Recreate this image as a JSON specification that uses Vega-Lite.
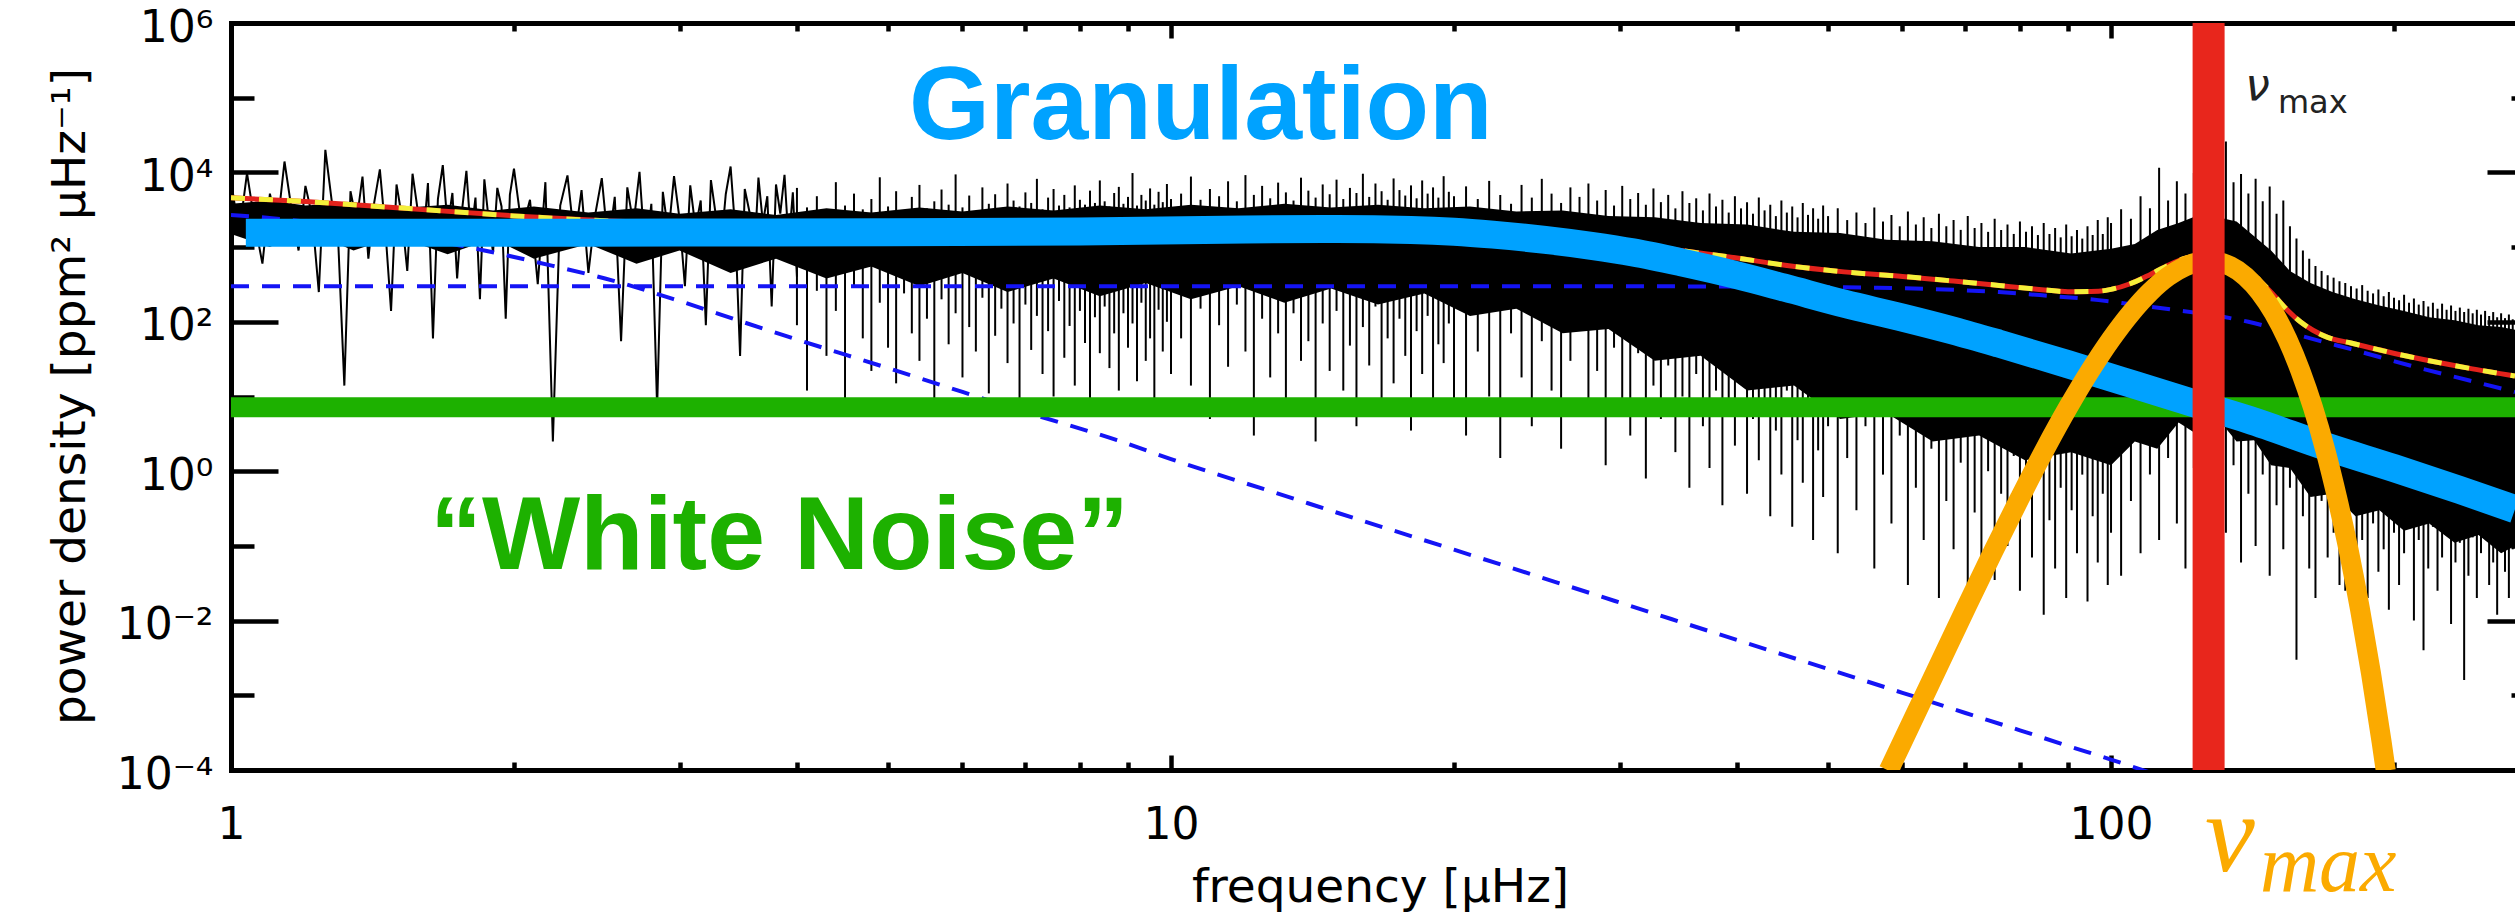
{
"$schema": "https://vega.github.io/schema/vega-lite/v6.json",
"width": 2284, "height": 747,
"autosize": {"type": "none"},
"padding": {"left": 231, "top": 23, "right": 0, "bottom": 143},
"background": "white",
"view": {"stroke": null},
"config": {"axis": {"grid": false, "domainColor": "black", "domainWidth": 5, "domainCap": "square", "tickColor": "black", "tickWidth": 4.5, "labelFont": "DejaVu Sans", "labelFontSize": 44, "labelColor": "black", "titleFont": "DejaVu Sans", "titleFontSize": 47, "titleFontWeight": "normal", "titleColor": "black", "labelOverlap": false, "labelFlush": false}},
"resolve": {"axis": {"x": "independent", "y": "independent"}},
"datasets": {
"low": [{"f":1.00,"p":7800},{"f":1.02,"p":1500},{"f":1.04,"p":9800},{"f":1.06,"p":2100},{"f":1.08,"p":600},{"f":1.10,"p":5200},{"f":1.12,"p":1800},{"f":1.14,"p":14000},{"f":1.16,"p":3200},{"f":1.18,"p":900},{"f":1.20,"p":6600},{"f":1.22,"p":2600},{"f":1.24,"p":250},{"f":1.26,"p":20000},{"f":1.28,"p":4100},{"f":1.30,"p":1300},{"f":1.32,"p":14},{"f":1.34,"p":5600},{"f":1.36,"p":2200},{"f":1.38,"p":8800},{"f":1.40,"p":700},{"f":1.42,"p":3900},{"f":1.44,"p":11000},{"f":1.46,"p":1600},{"f":1.48,"p":140},{"f":1.50,"p":6900},{"f":1.52,"p":2500},{"f":1.54,"p":480},{"f":1.56,"p":9600},{"f":1.58,"p":3100},{"f":1.60,"p":1100},{"f":1.62,"p":7200},{"f":1.64,"p":60},{"f":1.66,"p":4400},{"f":1.68,"p":12500},{"f":1.70,"p":1900},{"f":1.72,"p":5300},{"f":1.74,"p":380},{"f":1.76,"p":2900},{"f":1.78,"p":10500},{"f":1.80,"p":1400},{"f":1.82,"p":4600},{"f":1.84,"p":200},{"f":1.86,"p":8100},{"f":1.88,"p":2300},{"f":1.90,"p":850},{"f":1.92,"p":6200},{"f":1.94,"p":3500},{"f":1.96,"p":110},{"f":1.98,"p":5000},{"f":2.00,"p":11200},{"f":2.04,"p":1700},{"f":2.08,"p":4300},{"f":2.12,"p":320},{"f":2.16,"p":7400},{"f":2.20,"p":2.5},{"f":2.24,"p":3600},{"f":2.28,"p":9100},{"f":2.32,"p":1200},{"f":2.36,"p":5800},{"f":2.40,"p":450},{"f":2.44,"p":2700},{"f":2.48,"p":8400},{"f":2.52,"p":1000},{"f":2.56,"p":4700},{"f":2.60,"p":55},{"f":2.64,"p":6300},{"f":2.68,"p":2000},{"f":2.72,"p":10200},{"f":2.76,"p":700},{"f":2.80,"p":3800},{"f":2.84,"p":7},{"f":2.88,"p":5500},{"f":2.92,"p":1500},{"f":2.96,"p":8900},{"f":3.00,"p":2400},{"f":3.04,"p":300},{"f":3.08,"p":6700},{"f":3.12,"p":1800},{"f":3.16,"p":4200},{"f":3.20,"p":90},{"f":3.24,"p":7900},{"f":3.28,"p":2600},{"f":3.32,"p":950},{"f":3.36,"p":5100},{"f":3.40,"p":12000},{"f":3.44,"p":1600},{"f":3.48,"p":35},{"f":3.52,"p":6000},{"f":3.56,"p":3000},{"f":3.60,"p":600},{"f":3.64,"p":8500},{"f":3.68,"p":2100},{"f":3.72,"p":4800},{"f":3.76,"p":160},{"f":3.80,"p":6900},{"f":3.84,"p":2800},{"f":3.88,"p":9300},{"f":3.92,"p":1100},{"f":3.96,"p":5400},{"f":4.00,"p":400}],
"band": [{"f":1.0,"lo":1500,"hi":3800},{"f":1.1,"lo":1000,"hi":4200},{"f":1.2,"lo":1700,"hi":3600},{"f":1.35,"lo":900,"hi":4000},{"f":1.5,"lo":1400,"hi":3300},{"f":1.7,"lo":800,"hi":3700},{"f":1.9,"lo":1300,"hi":3100},{"f":2.1,"lo":700,"hi":3500},{"f":2.4,"lo":1100,"hi":2900},{"f":2.7,"lo":600,"hi":3300},{"f":3.0,"lo":900,"hi":2800},{"f":3.4,"lo":450,"hi":3200},{"f":3.8,"lo":700,"hi":2700},{"f":4.3,"lo":380,"hi":3300},{"f":4.8,"lo":550,"hi":2900},{"f":5.4,"lo":300,"hi":3400},{"f":6.0,"lo":450,"hi":3000},{"f":6.7,"lo":250,"hi":3500},{"f":7.5,"lo":380,"hi":3100},{"f":8.4,"lo":220,"hi":3600},{"f":9.4,"lo":330,"hi":3200},{"f":10.5,"lo":200,"hi":3700},{"f":11.8,"lo":300,"hi":3300},{"f":13.2,"lo":180,"hi":3800},{"f":14.8,"lo":280,"hi":3400},{"f":16.6,"lo":170,"hi":3700},{"f":18.6,"lo":240,"hi":3300},{"f":20.8,"lo":120,"hi":3500},{"f":23.3,"lo":150,"hi":3000},{"f":26.1,"lo":70,"hi":3100},{"f":29.2,"lo":80,"hi":2600},{"f":32.7,"lo":30,"hi":2500},{"f":36.6,"lo":35,"hi":2100},{"f":41,"lo":12,"hi":2000},{"f":46,"lo":14,"hi":1600},{"f":51.5,"lo":5,"hi":1550},{"f":57.7,"lo":6,"hi":1250},{"f":64.6,"lo":2.5,"hi":1200},{"f":72.4,"lo":3,"hi":1000},{"f":81,"lo":1.4,"hi":1000},{"f":90.7,"lo":1.8,"hi":820},{"f":100,"lo":1.2,"hi":950},{"f":106,"lo":2.5,"hi":1100},{"f":112,"lo":2,"hi":1700},{"f":118,"lo":4.5,"hi":2100},{"f":124,"lo":3,"hi":2700},{"f":130,"lo":5,"hi":2500},{"f":136,"lo":2.5,"hi":2200},{"f":142,"lo":2.6,"hi":1400},{"f":148,"lo":1.2,"hi":900},{"f":155,"lo":1.1,"hi":480},{"f":163,"lo":0.45,"hi":330},{"f":172,"lo":0.5,"hi":250},{"f":182,"lo":0.25,"hi":200},{"f":193,"lo":0.3,"hi":165},{"f":205,"lo":0.16,"hi":140},{"f":218,"lo":0.2,"hi":115},{"f":232,"lo":0.11,"hi":105},{"f":246,"lo":0.14,"hi":90},{"f":260,"lo":0.08,"hi":85},{"f":269,"lo":0.1,"hi":78}],
"spk": [{"f":4.0,"lo":90,"hi":6200},{"f":4.1,"lo":12,"hi":3400},{"f":4.2,"lo":260,"hi":4800},{"f":4.3,"lo":35,"hi":3000},{"f":4.4,"lo":140,"hi":7400},{"f":4.5,"lo":8,"hi":3600},{"f":4.6,"lo":300,"hi":5200},{"f":4.7,"lo":60,"hi":3200},{"f":4.8,"lo":22,"hi":4400},{"f":4.9,"lo":180,"hi":8600},{"f":5.0,"lo":45,"hi":3500},{"f":5.1,"lo":15,"hi":5600},{"f":5.2,"lo":240,"hi":3100},{"f":5.3,"lo":70,"hi":4700},{"f":5.4,"lo":30,"hi":6800},{"f":5.5,"lo":110,"hi":3300},{"f":5.6,"lo":9,"hi":4100},{"f":5.7,"lo":200,"hi":5900},{"f":5.8,"lo":50,"hi":3700},{"f":5.9,"lo":130,"hi":9400},{"f":6.0,"lo":18,"hi":3400},{"f":6.1,"lo":85,"hi":4900},{"f":6.2,"lo":40,"hi":3000},{"f":6.3,"lo":210,"hi":6300},{"f":6.4,"lo":11,"hi":3800},{"f":6.5,"lo":65,"hi":5100},{"f":6.6,"lo":150,"hi":3300},{"f":6.7,"lo":28,"hi":7100},{"f":6.8,"lo":95,"hi":4200},{"f":6.9,"lo":6,"hi":3500},{"f":7.0,"lo":170,"hi":5400},{"f":7.1,"lo":42,"hi":3900},{"f":7.2,"lo":120,"hi":8200},{"f":7.3,"lo":20,"hi":3200},{"f":7.4,"lo":75,"hi":4600},{"f":7.5,"lo":10,"hi":6000},{"f":7.6,"lo":190,"hi":3600},{"f":7.7,"lo":33,"hi":5000},{"f":7.8,"lo":88,"hi":3400},{"f":7.9,"lo":14,"hi":6700},{"f":8.0,"lo":140,"hi":4300},{"f":8.1,"lo":52,"hi":3700},{"f":8.2,"lo":7,"hi":5700},{"f":8.3,"lo":115,"hi":3900},{"f":8.4,"lo":38,"hi":7800},{"f":8.5,"lo":160,"hi":4100},{"f":8.6,"lo":24,"hi":3500},{"f":8.7,"lo":70,"hi":5300},{"f":8.8,"lo":12,"hi":6400},{"f":8.9,"lo":130,"hi":3800},{"f":9.0,"lo":45,"hi":4700},{"f":9.1,"lo":95,"hi":9800},{"f":9.2,"lo":16,"hi":3600},{"f":9.3,"lo":180,"hi":5000},{"f":9.4,"lo":30,"hi":4200},{"f":9.5,"lo":60,"hi":6100},{"f":9.6,"lo":9,"hi":3700},{"f":9.7,"lo":145,"hi":5500},{"f":9.8,"lo":40,"hi":4000},{"f":9.9,"lo":100,"hi":7000},{"f":10.0,"lo":20,"hi":4400},
{"f":10.25,"lo":60,"hi":5200},{"f":10.5,"lo":14,"hi":8800},{"f":10.75,"lo":150,"hi":4300},{"f":11.0,"lo":5,"hi":6000},{"f":11.25,"lo":90,"hi":4800},{"f":11.5,"lo":25,"hi":7600},{"f":11.75,"lo":170,"hi":4100},{"f":12.0,"lo":40,"hi":9200},{"f":12.25,"lo":3,"hi":5000},{"f":12.5,"lo":110,"hi":6600},{"f":12.75,"lo":18,"hi":4500},{"f":13.0,"lo":70,"hi":7300},{"f":13.25,"lo":8,"hi":5400},{"f":13.5,"lo":130,"hi":4200},{"f":13.75,"lo":30,"hi":8500},{"f":14.0,"lo":55,"hi":5700},{"f":14.25,"lo":2.5,"hi":4600},{"f":14.5,"lo":95,"hi":6900},{"f":14.75,"lo":22,"hi":5100},{"f":15.0,"lo":140,"hi":8000},{"f":15.25,"lo":12,"hi":4400},{"f":15.5,"lo":48,"hi":6200},{"f":15.75,"lo":4,"hi":5300},{"f":16.0,"lo":85,"hi":9600},{"f":16.25,"lo":26,"hi":4700},{"f":16.5,"lo":160,"hi":7100},{"f":16.75,"lo":7,"hi":5600},{"f":17.0,"lo":60,"hi":4300},{"f":17.25,"lo":15,"hi":8300},{"f":17.5,"lo":110,"hi":5800},{"f":17.75,"lo":35,"hi":4900},{"f":18.0,"lo":3.5,"hi":6700},{"f":18.25,"lo":75,"hi":4500},{"f":18.5,"lo":20,"hi":7800},{"f":18.75,"lo":120,"hi":5200},{"f":19.0,"lo":9,"hi":6300},{"f":19.25,"lo":50,"hi":4600},{"f":19.5,"lo":28,"hi":8900},{"f":19.75,"lo":95,"hi":5500},{"f":20.0,"lo":6,"hi":4800},
{"f":20.6,"lo":3,"hi":6500},{"f":21.2,"lo":40,"hi":4400},{"f":21.8,"lo":10,"hi":7700},{"f":22.4,"lo":1.5,"hi":5000},{"f":23.0,"lo":70,"hi":3800},{"f":23.6,"lo":18,"hi":6800},{"f":24.2,"lo":4,"hi":4600},{"f":24.8,"lo":55,"hi":8200},{"f":25.4,"lo":12,"hi":5200},{"f":26.0,"lo":2,"hi":3900},{"f":26.6,"lo":30,"hi":6300},{"f":27.2,"lo":80,"hi":4700},{"f":27.8,"lo":6,"hi":7100},{"f":28.4,"lo":22,"hi":4200},{"f":29.0,"lo":1.2,"hi":5800},{"f":29.6,"lo":45,"hi":3600},{"f":30.2,"lo":9,"hi":6600},{"f":30.8,"lo":3,"hi":4400},{"f":31.4,"lo":38,"hi":5300},{"f":32.0,"lo":0.8,"hi":3700},{"f":32.6,"lo":14,"hi":6100},{"f":33.2,"lo":5,"hi":4000},{"f":33.8,"lo":26,"hi":5000},{"f":34.4,"lo":1.8,"hi":3300},{"f":35.0,"lo":10,"hi":5600},{"f":35.6,"lo":0.6,"hi":3900},{"f":36.2,"lo":20,"hi":4500},{"f":36.8,"lo":4,"hi":3100},{"f":37.4,"lo":1.1,"hi":5200},{"f":38.0,"lo":12,"hi":3500},{"f":38.6,"lo":0.35,"hi":4300},{"f":39.2,"lo":7,"hi":2900},{"f":39.8,"lo":2.2,"hi":4800},{"f":40.4,"lo":16,"hi":3300},{"f":41.0,"lo":0.5,"hi":4000},{"f":41.6,"lo":5,"hi":2800},{"f":42.2,"lo":1.4,"hi":4600},{"f":42.8,"lo":9,"hi":3100},{"f":43.4,"lo":0.25,"hi":3700},{"f":44.0,"lo":3.5,"hi":2600},{"f":44.6,"lo":0.9,"hi":4200},{"f":45.2,"lo":12,"hi":2900},{"f":45.8,"lo":0.18,"hi":3500},{"f":46.4,"lo":2.6,"hi":2500},{"f":47.0,"lo":0.7,"hi":3900},{"f":47.6,"lo":6,"hi":2700},{"f":48.2,"lo":0.12,"hi":3300},{"f":48.8,"lo":1.9,"hi":2400},{"f":49.4,"lo":0.45,"hi":3600},{"f":50.0,"lo":4,"hi":2600},
{"f":51.2,"lo":0.08,"hi":3300},{"f":52.4,"lo":1.5,"hi":2300},{"f":53.6,"lo":0.3,"hi":2900},{"f":54.8,"lo":4,"hi":2100},{"f":56.0,"lo":0.05,"hi":3400},{"f":57.2,"lo":0.9,"hi":2200},{"f":58.4,"lo":0.2,"hi":2700},{"f":59.6,"lo":3,"hi":1900},{"f":60.8,"lo":0.03,"hi":3000},{"f":62.0,"lo":0.6,"hi":2000},{"f":63.2,"lo":0.12,"hi":2500},{"f":64.4,"lo":2,"hi":1800},{"f":65.6,"lo":0.02,"hi":2800},{"f":66.8,"lo":0.4,"hi":1900},{"f":68.0,"lo":0.09,"hi":2300},{"f":69.2,"lo":1.3,"hi":1700},{"f":70.4,"lo":0.015,"hi":2600},{"f":71.6,"lo":0.28,"hi":1800},{"f":72.8,"lo":0.06,"hi":2100},{"f":74.0,"lo":1.0,"hi":1600},{"f":75.2,"lo":0.035,"hi":2400},{"f":76.4,"lo":0.5,"hi":1700},{"f":77.6,"lo":0.1,"hi":2000},{"f":78.8,"lo":1.6,"hi":1500},{"f":80.0,"lo":0.025,"hi":2200},{"f":81.2,"lo":0.35,"hi":1600},{"f":82.4,"lo":0.07,"hi":1900},{"f":83.6,"lo":0.8,"hi":1450},{"f":84.8,"lo":0.012,"hi":2100},{"f":86.0,"lo":0.22,"hi":1500},{"f":87.2,"lo":0.05,"hi":1800},{"f":88.4,"lo":0.6,"hi":1350},{"f":89.6,"lo":0.02,"hi":2000},{"f":90.8,"lo":0.3,"hi":1400},{"f":92.0,"lo":0.08,"hi":1700},{"f":93.2,"lo":0.9,"hi":1300},{"f":94.4,"lo":0.018,"hi":1900},{"f":95.6,"lo":0.25,"hi":1450},{"f":96.8,"lo":0.06,"hi":2300},{"f":98.0,"lo":0.5,"hi":1500},{"f":99.2,"lo":0.03,"hi":2500},
{"f":100.0,"lo":0.15,"hi":2100},{"f":102.5,"lo":0.04,"hi":3200},{"f":105.0,"lo":0.4,"hi":2400},{"f":107.5,"lo":0.08,"hi":4800},{"f":110.0,"lo":0.9,"hi":3300},{"f":112.5,"lo":0.12,"hi":11500},{"f":115.0,"lo":1.5,"hi":4200},{"f":117.5,"lo":0.2,"hi":7600},{"f":120.0,"lo":0.05,"hi":5200},{"f":122.5,"lo":1.1,"hi":9800},{"f":125.0,"lo":0.3,"hi":15000},{"f":127.5,"lo":0.07,"hi":6200},{"f":130.0,"lo":0.8,"hi":18000},{"f":132.5,"lo":0.15,"hi":26000},{"f":135.0,"lo":1.2,"hi":7400},{"f":137.5,"lo":0.06,"hi":9500},{"f":140.0,"lo":0.5,"hi":5200},{"f":142.5,"lo":0.1,"hi":8200},{"f":145.0,"lo":0.9,"hi":4100},{"f":147.5,"lo":0.04,"hi":6500},{"f":150.0,"lo":0.35,"hi":2800},{"f":152.5,"lo":0.09,"hi":4200},{"f":155.0,"lo":0.6,"hi":1900},{"f":157.5,"lo":0.003,"hi":1300},{"f":160.0,"lo":0.25,"hi":900},{"f":162.5,"lo":0.05,"hi":700},{"f":165.0,"lo":0.02,"hi":560},{"f":167.5,"lo":0.4,"hi":480},{"f":170.0,"lo":0.07,"hi":420},{"f":172.5,"lo":0.15,"hi":390},{"f":175.0,"lo":0.03,"hi":350},{"f":177.5,"lo":0.025,"hi":330},{"f":180.0,"lo":0.3,"hi":300},{"f":182.5,"lo":0.06,"hi":280},{"f":185.0,"lo":0.12,"hi":310},{"f":187.5,"lo":0.02,"hi":260},{"f":190.0,"lo":0.2,"hi":240},{"f":192.5,"lo":0.045,"hi":270},{"f":195.0,"lo":0.09,"hi":220},{"f":197.5,"lo":0.014,"hi":250},{"f":200.0,"lo":0.15,"hi":210},{"f":202.5,"lo":0.03,"hi":195},{"f":205.0,"lo":0.08,"hi":230},{"f":207.5,"lo":0.2,"hi":180},{"f":210.0,"lo":0.01,"hi":205},{"f":212.5,"lo":0.12,"hi":170},{"f":215.0,"lo":0.004,"hi":190},{"f":217.5,"lo":0.05,"hi":160},{"f":220.0,"lo":0.18,"hi":180},{"f":222.5,"lo":0.025,"hi":150},{"f":225.0,"lo":0.07,"hi":175},{"f":227.5,"lo":0.14,"hi":145},{"f":230.0,"lo":0.009,"hi":165},{"f":232.5,"lo":0.06,"hi":140},{"f":235.0,"lo":0.11,"hi":155},{"f":237.5,"lo":0.0016,"hi":135},{"f":240.0,"lo":0.04,"hi":150},{"f":242.5,"lo":0.13,"hi":130},{"f":245.0,"lo":0.02,"hi":145},{"f":247.5,"lo":0.08,"hi":125},{"f":250.0,"lo":0.15,"hi":140},{"f":252.5,"lo":0.03,"hi":120},{"f":255.0,"lo":0.06,"hi":135},{"f":257.5,"lo":0.012,"hi":115},{"f":260.0,"lo":0.1,"hi":130},{"f":262.5,"lo":0.045,"hi":112},{"f":265.0,"lo":0.02,"hi":125},{"f":267.5,"lo":0.09,"hi":108}],
"act": [{"f":1,"p":2700},{"f":1.2,"p":2200},{"f":1.5,"p":1500},{"f":1.86,"p":900},{"f":2.2,"p":560},{"f":2.5,"p":380},{"f":3,"p":190},{"f":3.5,"p":100},{"f":4,"p":58},{"f":5,"p":24},{"f":6,"p":11.5},{"f":7,"p":6.2},{"f":8.76,"p":2.6},{"f":10,"p":1.45},{"f":13.35,"p":0.45},{"f":15,"p":0.28},{"f":20,"p":0.089},{"f":30,"p":0.0175},{"f":40,"p":0.0055},{"f":50,"p":0.00225},{"f":60,"p":0.00108},{"f":70,"p":0.00058},{"f":80,"p":0.00034},{"f":90,"p":0.00021},{"f":100,"p":0.000138},{"f":110,"p":0.0000925}],
"harvey": [{"f":1,"p":300},{"f":20,"p":300},{"f":40,"p":297},{"f":52,"p":289},{"f":60,"p":282},{"f":68,"p":268},{"f":76,"p":250},{"f":85,"p":225},{"f":97,"p":195},{"f":105,"p":172},{"f":117,"p":144},{"f":127,"p":125},{"f":140,"p":100},{"f":155,"p":71},{"f":170,"p":52},{"f":180,"p":43},{"f":208,"p":26},{"f":240,"p":16.5},{"f":269,"p":11.5}],
"total": [{"f":1,"p":4567},{"f":1.2,"p":4067},{"f":1.5,"p":3367},{"f":2,"p":2617},{"f":2.5,"p":2247},{"f":3,"p":2062},{"f":4,"p":1937},{"f":6,"p":1914},{"f":8,"p":1930},{"f":10,"p":1978},{"f":12,"p":2027},{"f":15,"p":2057},{"f":18,"p":2007},{"f":20,"p":1907},{"f":22,"p":1756},{"f":25,"p":1555},{"f":28,"p":1334},{"f":30,"p":1203},{"f":34,"p":942},{"f":40,"p":714},{"f":45,"p":571},{"f":52,"p":466},{"f":60,"p":405},{"f":68,"p":351},{"f":76,"p":307},{"f":85,"p":267},{"f":90,"p":253},{"f":97,"p":257},{"f":100,"p":272},{"f":105,"p":326},{"f":110,"p":428},{"f":115,"p":571},{"f":120,"p":709},{"f":127,"p":789},{"f":134,"p":678},{"f":139,"p":520},{"f":144,"p":355},{"f":149,"p":227},{"f":154,"p":144},{"f":159,"p":100},{"f":164,"p":77},{"f":170,"p":62},{"f":180,"p":52},{"f":208,"p":34},{"f":240,"p":24},{"f":269,"p":18.8}],
"gran": [{"f":1.037,"p":1560},{"f":1.5,"p":1560},{"f":2,"p":1560},{"f":3,"p":1565},{"f":5,"p":1580},{"f":8,"p":1620},{"f":12,"p":1720},{"f":15,"p":1750},{"f":18,"p":1700},{"f":20,"p":1610},{"f":22,"p":1470},{"f":25,"p":1250},{"f":28,"p":1040},{"f":31,"p":850},{"f":35,"p":620},{"f":40,"p":420},{"f":45,"p":285},{"f":52,"p":175},{"f":60,"p":114},{"f":68,"p":76},{"f":76,"p":51},{"f":90,"p":27},{"f":106,"p":14.3},{"f":120,"p":8.8},{"f":140,"p":4.9},{"f":170,"p":2.1},{"f":200,"p":1.1},{"f":235,"p":0.56},{"f":269,"p":0.31}],
"osc": [{"f":58,"p":0.000098},{"f":60,"p":0.00024},{"f":65,"p":0.002},{"f":70,"p":0.0143},{"f":75,"p":0.0866},{"f":80,"p":0.44},{"f":85,"p":1.93},{"f":90,"p":7.1},{"f":95,"p":22.1},{"f":100,"p":58.5},{"f":105,"p":131},{"f":110,"p":250},{"f":115,"p":404},{"f":120,"p":553},{"f":127,"p":650},{"f":134,"p":553},{"f":139,"p":404},{"f":144,"p":250},{"f":149,"p":131},{"f":154,"p":58.5},{"f":159,"p":22.1},{"f":164,"p":7.1},{"f":169,"p":1.93},{"f":174,"p":0.44},{"f":179,"p":0.0866},{"f":184,"p":0.0143},{"f":189,"p":0.002},{"f":194,"p":0.00024},{"f":196,"p":0.000098}],
"white": [{"f":1,"p":7.2},{"f":269,"p":7.2}],
"numax": [{"f":127,"lo":0.0001,"hi":1000000}]
},
"layer": [
{"data": {"name": "band"}, "mark": {"type": "area", "color": "black", "clip": true},
 "encoding": {"x": {"field": "f", "type": "quantitative", "scale": {"type": "log", "domain": [1, 269], "nice": false}, "axis": null},
  "y": {"field": "lo", "type": "quantitative", "scale": {"type": "log", "domain": [0.0001, 1000000], "nice": false}, "axis": null},
  "y2": {"field": "hi"}}},
{"data": {"name": "spk"}, "mark": {"type": "rule", "color": "black", "strokeWidth": 2, "clip": true},
 "encoding": {"x": {"field": "f", "type": "quantitative", "scale": {"type": "log", "domain": [1, 269], "nice": false}, "axis": null},
  "y": {"field": "lo", "type": "quantitative", "scale": {"type": "log", "domain": [0.0001, 1000000], "nice": false}, "axis": null},
  "y2": {"field": "hi"}}},
{"data": {"name": "low"}, "mark": {"type": "line", "color": "black", "strokeWidth": 2, "clip": true},
 "encoding": {"x": {"field": "f", "type": "quantitative", "scale": {"type": "log", "domain": [1, 269], "nice": false}, "axis": null},
  "y": {"field": "p", "type": "quantitative", "scale": {"type": "log", "domain": [0.0001, 1000000], "nice": false}, "axis": null}}},
{"data": {"name": "act"}, "mark": {"type": "line", "color": "#1414F5", "strokeWidth": 4, "strokeDash": [18, 13], "interpolate": "monotone", "clip": true},
 "encoding": {"x": {"field": "f", "type": "quantitative", "scale": {"type": "log", "domain": [1, 269], "nice": false}, "axis": null},
  "y": {"field": "p", "type": "quantitative", "scale": {"type": "log", "domain": [0.0001, 1000000], "nice": false}, "axis": null}}},
{"data": {"name": "harvey"}, "mark": {"type": "line", "color": "#1414F5", "strokeWidth": 4, "strokeDash": [18, 13], "interpolate": "monotone", "clip": true},
 "encoding": {"x": {"field": "f", "type": "quantitative", "scale": {"type": "log", "domain": [1, 269], "nice": false}, "axis": null},
  "y": {"field": "p", "type": "quantitative", "scale": {"type": "log", "domain": [0.0001, 1000000], "nice": false}, "axis": null}}},
{"data": {"name": "total"}, "mark": {"type": "line", "color": "#E3221C", "strokeWidth": 5, "interpolate": "monotone", "clip": true},
 "encoding": {"x": {"field": "f", "type": "quantitative", "scale": {"type": "log", "domain": [1, 269], "nice": false}, "axis": null},
  "y": {"field": "p", "type": "quantitative", "scale": {"type": "log", "domain": [0.0001, 1000000], "nice": false}, "axis": null}}},
{"data": {"name": "total"}, "mark": {"type": "line", "color": "#F4F03A", "strokeWidth": 5, "strokeDash": [14, 14], "interpolate": "monotone", "clip": true},
 "encoding": {"x": {"field": "f", "type": "quantitative", "scale": {"type": "log", "domain": [1, 269], "nice": false}, "axis": null},
  "y": {"field": "p", "type": "quantitative", "scale": {"type": "log", "domain": [0.0001, 1000000], "nice": false}, "axis": null}}},
{"data": {"name": "white"}, "mark": {"type": "line", "color": "#1DB100", "strokeWidth": 20, "strokeCap": "butt", "clip": true},
 "encoding": {"x": {"field": "f", "type": "quantitative", "scale": {"type": "log", "domain": [1, 269], "nice": false},
   "axis": {"orient": "bottom", "values": [1, 10, 100], "tickSize": -15, "labelPadding": 70, "labelBaseline": "middle", "labelExpr": "datum.value >= 50 ? '100' : datum.value >= 5 ? '10' : '1'", "title": "frequency [µHz]", "titleX": 1149, "titleY": 117, "titleBaseline": "middle", "titleAlign": "center"}},
  "y": {"field": "p", "type": "quantitative", "scale": {"type": "log", "domain": [0.0001, 1000000], "nice": false},
   "axis": {"orient": "left", "values": [0.0001, 0.01, 1, 100, 10000, 1000000], "tickSize": -47, "labelPadding": 65, "labelBaseline": "middle", "labelOffset": 5, "labelExpr": "datum.value >= 100000 ? '10⁶' : datum.value >= 1000 ? '10⁴' : datum.value >= 10 ? '10²' : datum.value >= 0.1 ? '10⁰' : datum.value >= 0.001 ? '10⁻²' : '10⁻⁴'", "title": "power density [ppm² µHz⁻¹]", "titleX": -161, "titleY": 373, "titleAngle": -90, "titleBaseline": "middle", "titleAlign": "center"}}}},
{"data": {"name": "gran"}, "mark": {"type": "line", "color": "#00A2FF", "strokeWidth": 28, "strokeCap": "butt", "interpolate": "monotone", "clip": true},
 "encoding": {"x": {"field": "f", "type": "quantitative", "scale": {"type": "log", "domain": [1, 269], "nice": false},
   "axis": {"orient": "bottom", "values": [2, 3, 4, 5, 6, 7, 8, 9, 20, 30, 40, 50, 60, 70, 80, 90, 200], "tickSize": -8, "labels": false, "title": null}},
  "y": {"field": "p", "type": "quantitative", "scale": {"type": "log", "domain": [0.0001, 1000000], "nice": false},
   "axis": {"orient": "left", "values": [0.001, 0.1, 10, 1000, 100000], "tickSize": -23, "labels": false, "title": null}}}},
{"data": {"name": "osc"}, "mark": {"type": "line", "color": "#FBAA00", "strokeWidth": 20, "strokeCap": "butt", "interpolate": "monotone", "clip": true},
 "encoding": {"x": {"field": "f", "type": "quantitative", "scale": {"type": "log", "domain": [1, 269], "nice": false},
   "axis": {"orient": "top", "values": [1, 10, 100], "tickSize": -15, "labels": false, "title": null}},
  "y": {"field": "p", "type": "quantitative", "scale": {"type": "log", "domain": [0.0001, 1000000], "nice": false},
   "axis": {"orient": "right", "offset": 19, "domain": false, "values": [0.0001, 0.01, 1, 100, 10000, 1000000], "tickSize": -47, "labels": false, "title": null}}}},
{"data": {"name": "numax"}, "mark": {"type": "rule", "color": "#E8261C", "strokeWidth": 32, "strokeCap": "butt"},
 "encoding": {"x": {"field": "f", "type": "quantitative", "scale": {"type": "log", "domain": [1, 269], "nice": false},
   "axis": {"orient": "top", "values": [2, 3, 4, 5, 6, 7, 8, 9, 20, 30, 40, 50, 60, 70, 80, 90, 200], "tickSize": -8, "labels": false, "title": null}},
  "y": {"field": "lo", "type": "quantitative", "scale": {"type": "log", "domain": [0.0001, 1000000], "nice": false},
   "axis": {"orient": "right", "offset": 19, "domain": false, "values": [0.001, 0.1, 10, 1000, 100000], "tickSize": -23, "labels": false, "title": null}},
  "y2": {"field": "hi"}}},
{"data": {"values": [{"f": 5.264, "p": 27990, "t": "Granulation"}]}, "mark": {"type": "text", "align": "left", "baseline": "alphabetic", "font": "Liberation Sans", "fontWeight": "bold", "fontSize": 104, "color": "#00A2FF"},
 "encoding": {"x": {"field": "f", "type": "quantitative", "scale": {"type": "log", "domain": [1, 269], "nice": false}, "axis": null},
  "y": {"field": "p", "type": "quantitative", "scale": {"type": "log", "domain": [0.0001, 1000000], "nice": false}, "axis": null}, "text": {"field": "t"}}},
{"data": {"values": [{"f": 1.628, "p": 0.0491, "t": "“White Noise”"}]}, "mark": {"type": "text", "align": "left", "baseline": "alphabetic", "font": "Liberation Sans", "fontWeight": "bold", "fontSize": 104, "color": "#1DB100"},
 "encoding": {"x": {"field": "f", "type": "quantitative", "scale": {"type": "log", "domain": [1, 269], "nice": false}, "axis": null},
  "y": {"field": "p", "type": "quantitative", "scale": {"type": "log", "domain": [0.0001, 1000000], "nice": false}, "axis": null}, "text": {"field": "t"}}},
{"data": {"values": [{"f": 125.9, "p": 0.0000045, "t": "ν"}]}, "mark": {"type": "text", "align": "left", "baseline": "alphabetic", "font": "Liberation Serif", "fontStyle": "italic", "fontSize": 112, "color": "#FBAA00"},
 "encoding": {"x": {"field": "f", "type": "quantitative", "scale": {"type": "log", "domain": [1, 269], "nice": false}, "axis": null},
  "y": {"field": "p", "type": "quantitative", "scale": {"type": "log", "domain": [0.0001, 1000000], "nice": false}, "axis": null}, "text": {"field": "t"}}},
{"data": {"values": [{"f": 144.0, "p": 0.0000024, "t": "max"}]}, "mark": {"type": "text", "align": "left", "baseline": "alphabetic", "font": "Liberation Serif", "fontStyle": "italic", "fontSize": 82, "color": "#FBAA00"},
 "encoding": {"x": {"field": "f", "type": "quantitative", "scale": {"type": "log", "domain": [1, 269], "nice": false}, "axis": null},
  "y": {"field": "p", "type": "quantitative", "scale": {"type": "log", "domain": [0.0001, 1000000], "nice": false}, "axis": null}, "text": {"field": "t"}}},
{"data": {"values": [{"f": 138.9, "p": 93100, "t": "ν"}]}, "mark": {"type": "text", "align": "left", "baseline": "alphabetic", "font": "DejaVu Sans", "fontStyle": "italic", "fontSize": 44, "color": "#222222"},
 "encoding": {"x": {"field": "f", "type": "quantitative", "scale": {"type": "log", "domain": [1, 269], "nice": false}, "axis": null},
  "y": {"field": "p", "type": "quantitative", "scale": {"type": "log", "domain": [0.0001, 1000000], "nice": false}, "axis": null}, "text": {"field": "t"}}},
{"data": {"values": [{"f": 150.5, "p": 62400, "t": "max"}]}, "mark": {"type": "text", "align": "left", "baseline": "alphabetic", "font": "DejaVu Sans", "fontSize": 32, "color": "#222222"},
 "encoding": {"x": {"field": "f", "type": "quantitative", "scale": {"type": "log", "domain": [1, 269], "nice": false}, "axis": null},
  "y": {"field": "p", "type": "quantitative", "scale": {"type": "log", "domain": [0.0001, 1000000], "nice": false}, "axis": null}, "text": {"field": "t"}}}
]
}
